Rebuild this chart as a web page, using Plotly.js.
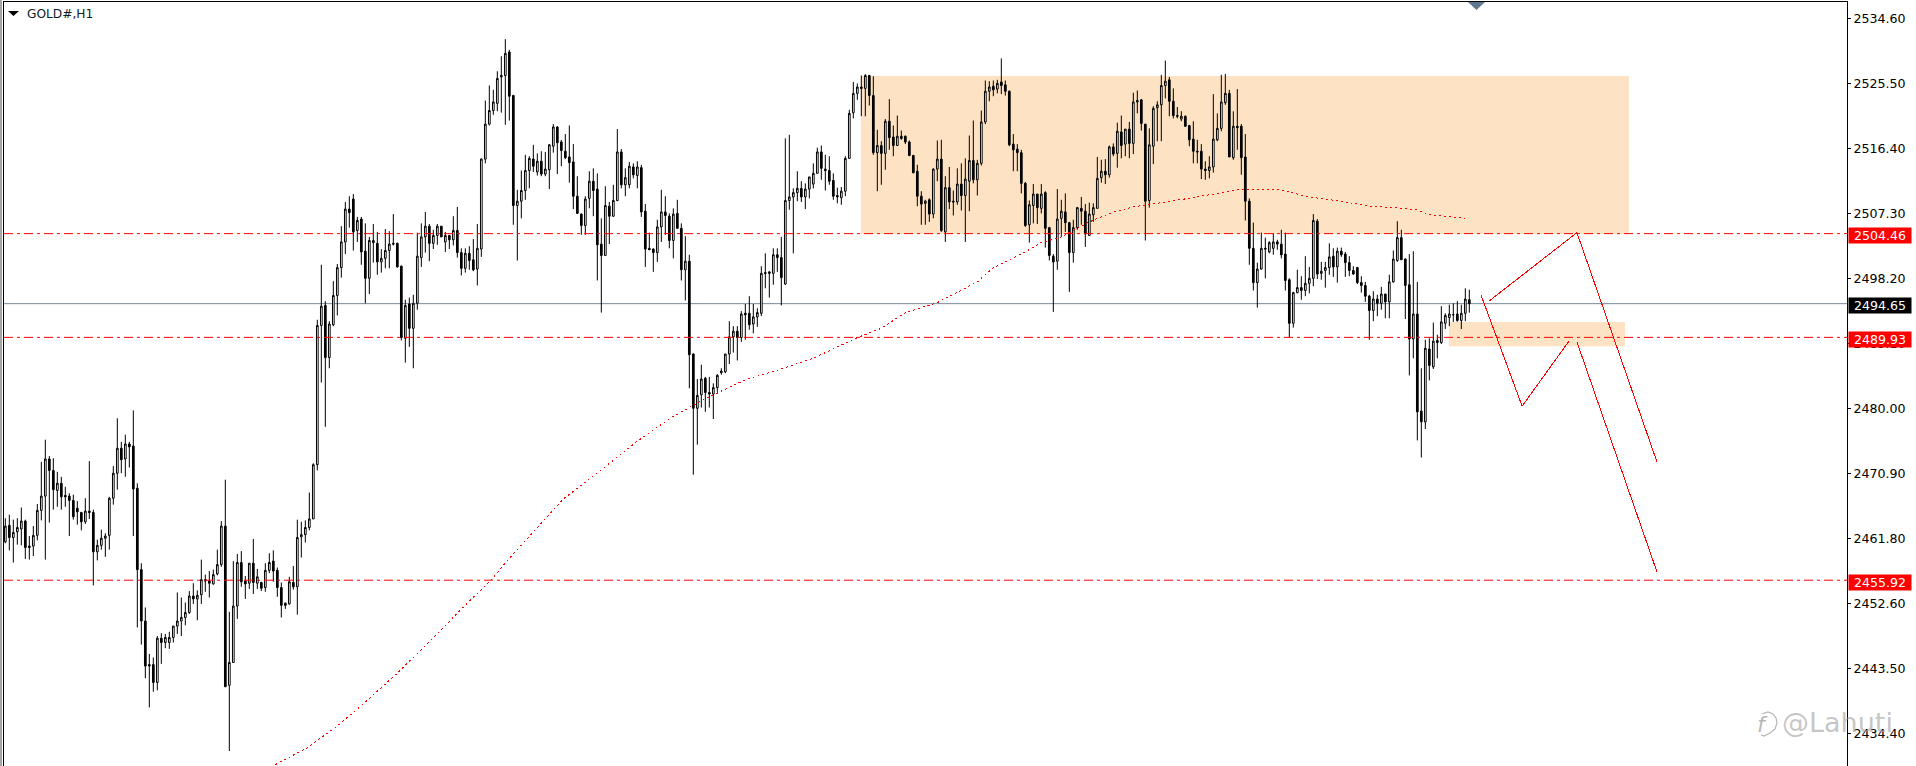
<!DOCTYPE html>
<html>
<head>
<meta charset="utf-8">
<script src="https://cdn.plot.ly/plotly-3.0.1.min.js"></script>
<style>
  html, body { margin: 0; padding: 0; background: #fff; overflow: hidden; }
  .scatterlayer path.js-line { shape-rendering: crispEdges; }
</style>
</head>
<body>
<div id="myDiv" style="width:1916px;height:766px;"></div>
<script>
var openP = [
2461.3,2463.6,2461.9,2462.7,2463.1,2464.2,2460.7,2460.7,2462.2,2465.7,
2467.7,2472.9,2471.3,2468.5,2469.5,2467.8,2467.7,2467.1,2466.0,2465.4,
2464.1,2465.6,2465.4,2459.9,2460.8,2461.8,2462.2,2467.4,2470.9,2474.4,
2472.9,2475.0,2474.7,2468.8,2457.4,2450.2,2444.1,2444.1,2441.6,2447.8,
2447.2,2447.2,2447.9,2449.5,2450.2,2450.7,2451.4,2453.7,2453.3,2453.9,
2456.0,2455.8,2455.4,2456.8,2458.1,2463.5,2441.2,2444.4,2452.3,2458.4,
2455.8,2455.5,2458.3,2455.5,2455.6,2454.9,2457.3,2458.6,2457.3,2454.9,
2452.7,2452.6,2455.6,2455.0,2462.0,2462.3,2463.3,2464.5,2472.1,2491.6,
2494.4,2487.1,2491.7,2495.8,2499.7,2503.3,2507.9,2509.3,2504.9,2506.5,
2502.0,2498.2,2503.5,2503.1,2500.5,2501.0,2502.1,2503.1,2503.1,2499.9,
2489.8,2494.6,2491.2,2494.7,2501.1,2504.0,2505.5,2503.1,2504.2,2505.5,
2503.3,2504.2,2503.6,2504.9,2501.8,2499.6,2501.7,2500.8,2499.5,2502.3,
2514.9,2519.8,2521.7,2522.7,2526.4,2526.6,2529.9,2523.8,2508.4,2509.0,
2510.5,2513.3,2514.9,2513.1,2514.6,2512.8,2513.4,2516.7,2519.4,2517.3,
2516.0,2515.2,2514.5,2509.7,2507.2,2505.6,2509.4,2511.8,2510.7,2503.0,
2501.4,2508.3,2506.9,2509.1,2515.9,2511.3,2511.3,2513.8,2512.6,2513.7,
2507.6,2502.4,2502.3,2501.8,2505.4,2507.5,2506.9,2503.5,2507.3,2505.2,
2499.4,2500.6,2487.6,2480.0,2481.9,2484.2,2482.2,2482.0,2482.9,2485.2,
2485.1,2487.6,2490.0,2490.8,2489.9,2493.3,2493.3,2491.8,2492.8,2493.3,
2499.0,2499.1,2498.9,2501.5,2501.1,2497.4,2509.1,2509.6,2510.2,2510.8,
2509.6,2510.7,2511.4,2512.9,2515.9,2513.5,2513.3,2511.9,2509.8,2509.5,
2510.4,2515.0,2521.4,2524.1,2525.0,2524.8,2526.6,2523.8,2515.8,2516.8,
2515.7,2520.2,2518.0,2516.8,2518.1,2518.1,2517.3,2515.4,2513.2,2509.7,
2508.7,2509.2,2507.2,2513.5,2514.9,2504.7,2510.9,2509.0,2508.9,2511.4,
2509.8,2511.8,2514.7,2512.0,2514.3,2520.1,2524.4,2525.1,2524.7,2525.7,
2525.3,2524.4,2517.0,2516.3,2515.8,2511.5,2505.7,2508.4,2510.0,2508.0,
2510.2,2505.3,2501.3,2500.6,2506.6,2507.5,2506.0,2501.8,2505.3,2508.0,
2507.6,2504.2,2507.1,2508.0,2512.3,2513.2,2512.7,2516.6,2515.7,2518.7,
2517.0,2519.1,2517.1,2522.9,2523.2,2519.8,2509.1,2516.7,2522.1,2522.5,
2525.2,2526.0,2523.0,2521.0,2520.5,2520.9,2519.6,2517.7,2516.0,2516.0,
2513.5,2513.3,2513.8,2517.6,2519.2,2522.8,2524.1,2515.1,2519.5,2519.5,
2515.2,2509.0,2502.4,2497.6,2499.5,2502.4,2501.9,2502.4,2503.3,2503.0,
2501.6,2498.0,2491.9,2496.2,2496.9,2496.5,2497.5,2498.2,2506.2,2498.9,
2499.3,2499.7,2501.3,2499.8,2502.0,2501.6,2500.4,2499.3,2499.7,2497.6,
2497.2,2495.7,2493.7,2495.3,2494.7,2496.0,2494.9,2497.7,2500.7,2503.9,
2500.9,2497.3,2489.7,2493.2,2479.6,2478.1,2488.3,2485.8,2489.5,2489.2,
2491.9,2492.7,2493.1,2493.2,2492.3,2493.3,2495.2];

var highP = [
2464.6,2465.1,2464.4,2464.6,2466.1,2464.4,2462.1,2463.5,2466.6,2472.5,
2475.6,2473.3,2473.0,2471.1,2470.4,2469.0,2468.1,2467.9,2467.0,2465.5,
2467.4,2472.6,2465.8,2461.6,2463.0,2462.5,2467.6,2471.9,2478.6,2475.3,
2476.3,2475.3,2479.7,2469.5,2458.3,2452.1,2445.6,2445.1,2448.1,2448.5,
2448.4,2448.7,2449.5,2454.2,2453.5,2452.8,2454.4,2455.5,2454.5,2458.8,
2456.7,2457.2,2457.4,2460.2,2464.2,2470.0,2451.5,2458.6,2459.6,2460.0,
2456.5,2458.3,2461.7,2457.5,2455.7,2458.3,2459.7,2460.1,2457.7,2455.6,
2452.8,2456.4,2457.9,2464.4,2464.1,2464.3,2468.2,2472.3,2492.4,2500.1,
2495.0,2492.2,2497.8,2500.2,2505.5,2508.9,2509.7,2510.0,2506.8,2506.8,
2505.9,2504.0,2505.8,2504.7,2502.3,2505.1,2504.8,2507.2,2503.2,2500.0,
2495.2,2495.5,2495.9,2504.6,2505.9,2507.5,2505.8,2505.0,2505.8,2505.5,
2504.7,2504.3,2506.9,2508.2,2502.4,2502.4,2502.7,2503.7,2505.8,2515.0,
2523.1,2525.2,2524.6,2527.2,2529.3,2531.7,2530.2,2523.9,2510.6,2513.3,
2515.5,2515.3,2516.9,2515.7,2516.0,2515.9,2517.0,2519.8,2519.5,2517.6,
2518.4,2519.6,2517.0,2512.5,2507.3,2509.7,2513.2,2513.6,2512.9,2506.6,
2511.1,2508.9,2511.3,2519.1,2516.3,2513.6,2514.5,2514.3,2514.6,2514.1,
2508.6,2504.6,2502.4,2506.4,2510.6,2509.7,2507.3,2508.0,2509.2,2505.9,
2504.1,2501.5,2487.7,2484.1,2486.1,2484.4,2484.4,2483.5,2484.8,2485.6,
2487.6,2492.2,2491.5,2491.5,2493.6,2494.6,2495.7,2494.6,2494.0,2499.9,
2501.7,2499.2,2502.4,2502.4,2504.0,2517.8,2518.3,2510.8,2513.2,2511.8,
2511.5,2512.4,2514.3,2516.5,2516.8,2515.5,2515.3,2512.9,2510.9,2511.0,
2515.3,2521.8,2525.7,2525.5,2526.6,2526.8,2526.7,2526.5,2519.0,2517.4,
2520.5,2523.3,2519.6,2521.0,2518.9,2518.2,2517.5,2515.5,2514.1,2510.4,
2509.2,2509.4,2513.6,2517.5,2517.6,2512.5,2513.8,2510.5,2513.6,2514.3,
2515.0,2518.2,2520.3,2514.8,2521.7,2525.9,2525.8,2525.9,2526.0,2529.0,
2525.9,2524.5,2518.4,2517.0,2516.2,2511.7,2509.1,2511.4,2510.0,2511.4,
2510.4,2505.4,2501.6,2510.7,2509.2,2510.1,2506.1,2506.4,2508.2,2509.6,
2508.6,2508.8,2508.7,2515.2,2514.8,2514.9,2516.8,2517.1,2520.0,2521.0,
2519.1,2520.1,2524.2,2524.5,2523.3,2519.8,2519.2,2522.3,2523.0,2526.7,
2528.7,2526.4,2524.8,2522.2,2521.6,2521.0,2519.7,2520.2,2517.6,2517.0,
2514.6,2515.3,2524.0,2521.3,2526.7,2526.8,2524.6,2521.6,2524.7,2519.8,
2518.4,2509.4,2506.0,2500.4,2504.6,2503.9,2503.4,2504.5,2503.6,2505.0,
2504.6,2498.2,2496.3,2499.4,2498.5,2501.3,2499.8,2507.2,2506.5,2500.5,
2500.5,2503.1,2502.4,2502.5,2502.5,2501.9,2501.3,2499.9,2499.8,2498.5,
2497.7,2495.9,2496.4,2495.9,2497.0,2496.0,2498.7,2502.1,2506.2,2505.0,
2501.0,2501.6,2502.0,2497.7,2485.6,2489.6,2489.8,2492.0,2490.3,2494.3,
2493.3,2494.5,2494.7,2495.0,2494.5,2496.8,2496.6];

var lowP = [
2461.1,2460.1,2458.4,2460.9,2460.8,2458.9,2458.8,2459.3,2461.5,2464.3,
2458.8,2464.0,2465.8,2466.2,2465.8,2466.2,2462.1,2464.4,2463.7,2462.9,
2463.8,2464.5,2455.2,2458.7,2460.2,2459.2,2460.2,2466.5,2468.6,2470.9,
2470.4,2471.7,2462.1,2449.3,2446.9,2442.2,2438.1,2440.3,2440.5,2444.2,
2446.4,2446.3,2447.2,2448.4,2448.1,2449.6,2451.2,2452.6,2450.3,2452.6,
2454.3,2453.5,2455.3,2456.6,2457.8,2441.0,2432.0,2444.4,2450.5,2455.0,
2453.3,2454.7,2454.0,2454.7,2454.4,2454.3,2456.9,2455.7,2453.6,2450.7,
2451.9,2452.5,2454.6,2451.1,2459.1,2461.2,2462.9,2464.5,2471.3,2483.6,
2477.4,2485.6,2491.5,2493.0,2498.3,2501.6,2505.3,2502.1,2503.3,2500.1,
2494.7,2496.0,2500.4,2498.7,2499.0,2499.6,2499.6,2502.8,2499.7,2489.5,
2486.4,2488.6,2485.6,2493.8,2499.8,2501.8,2500.6,2502.3,2502.9,2504.0,
2501.9,2502.3,2502.8,2501.1,2498.6,2499.0,2499.4,2499.2,2497.2,2501.2,
2514.3,2519.6,2521.1,2521.6,2521.4,2519.7,2520.3,2505.7,2500.7,2506.6,
2509.2,2510.8,2513.1,2512.6,2512.5,2512.5,2510.7,2515.8,2512.8,2513.9,
2514.9,2511.6,2507.9,2507.2,2504.3,2504.3,2508.0,2506.9,2497.9,2493.4,
2501.4,2503.0,2506.8,2509.0,2510.8,2509.7,2510.8,2512.2,2510.8,2506.8,
2499.8,2502.2,2499.1,2500.5,2503.3,2504.3,2502.4,2501.0,2505.2,2497.9,
2495.1,2482.8,2470.7,2474.9,2480.1,2479.5,2480.1,2478.5,2482.3,2484.7,
2484.9,2486.2,2487.8,2486.7,2489.3,2489.6,2491.0,2490.5,2491.4,2492.9,
2496.8,2495.5,2497.3,2499.1,2494.4,2497.3,2507.8,2501.7,2509.0,2508.9,
2507.9,2509.4,2510.8,2512.9,2512.0,2510.5,2511.3,2509.2,2508.7,2508.5,
2509.7,2514.9,2520.6,2523.2,2520.9,2520.9,2522.4,2515.5,2510.4,2511.3,
2513.4,2516.2,2515.3,2516.8,2517.6,2517.0,2515.3,2512.9,2508.3,2505.7,
2505.7,2506.1,2506.6,2511.8,2504.7,2503.3,2507.9,2507.0,2508.5,2507.7,
2503.3,2507.6,2511.5,2509.8,2514.0,2519.8,2523.0,2523.7,2524.1,2524.0,
2523.8,2516.7,2513.2,2513.2,2510.1,2505.4,2503.2,2505.9,2505.8,2507.3,
2502.5,2500.7,2493.5,2499.4,2504.0,2504.7,2496.3,2500.4,2505.0,2505.7,
2502.6,2504.2,2506.1,2508.0,2511.6,2511.4,2512.3,2515.3,2513.7,2515.0,
2515.3,2515.0,2515.6,2521.3,2518.9,2503.5,2508.1,2514.2,2517.4,2517.4,
2523.4,2520.9,2520.6,2520.6,2520.2,2519.4,2516.7,2514.3,2514.3,2512.1,
2512.0,2512.2,2513.0,2517.4,2518.8,2522.5,2515.2,2514.8,2516.2,2512.7,
2506.3,2500.1,2496.5,2494.1,2499.4,2498.2,2501.7,2501.5,2502.2,2501.0,
2496.5,2489.9,2491.3,2496.1,2495.2,2495.7,2496.1,2497.1,2498.1,2498.0,
2496.9,2498.7,2498.4,2497.6,2501.2,2498.4,2498.5,2498.7,2497.4,2496.2,
2494.9,2489.6,2492.2,2492.9,2493.8,2492.6,2492.6,2497.6,2500.5,2500.8,
2492.5,2484.6,2487.0,2475.5,2473.1,2477.1,2483.9,2485.5,2487.0,2489.0,
2491.1,2491.5,2492.1,2492.1,2491.1,2492.2,2493.4];

var closeP = [
2463.5,2461.9,2462.6,2463.3,2464.2,2460.5,2460.5,2462.2,2465.7,2467.7,
2472.9,2471.3,2468.6,2469.5,2467.6,2467.6,2467.1,2464.8,2465.5,2464.1,
2465.6,2465.4,2459.9,2460.8,2461.8,2462.1,2467.4,2470.9,2474.4,2472.8,
2475.0,2474.6,2468.7,2457.4,2450.2,2443.9,2443.9,2441.6,2447.8,2447.2,
2447.9,2447.9,2449.5,2450.2,2450.7,2451.4,2453.7,2453.3,2453.8,2456.0,
2455.8,2455.5,2456.7,2458.1,2463.5,2441.0,2444.4,2452.3,2458.4,2455.7,
2455.4,2458.3,2455.6,2456.4,2454.8,2457.3,2458.4,2457.2,2454.9,2452.4,
2452.4,2455.7,2455.0,2461.9,2462.3,2463.3,2464.5,2472.1,2491.6,2494.3,
2487.1,2491.8,2495.8,2499.7,2503.3,2507.9,2507.4,2504.7,2506.3,2501.9,
2498.2,2503.5,2503.2,2500.5,2501.0,2502.1,2503.0,2503.0,2499.8,2489.9,
2494.4,2491.2,2494.7,2501.3,2504.0,2505.5,2503.1,2504.2,2505.5,2504.0,
2504.2,2503.6,2504.9,2501.8,2499.6,2501.7,2500.7,2499.4,2502.4,2514.9,
2519.8,2521.7,2522.9,2526.2,2526.6,2529.7,2523.7,2508.4,2509.0,2510.5,
2513.3,2515.0,2513.9,2514.6,2512.8,2513.5,2516.9,2519.4,2517.2,2516.1,
2515.1,2514.4,2509.7,2507.3,2505.6,2509.3,2511.8,2510.5,2502.9,2501.4,
2508.4,2506.9,2509.1,2515.9,2511.3,2512.3,2513.9,2512.7,2513.8,2507.5,
2502.3,2502.2,2501.8,2505.4,2507.5,2507.0,2503.5,2507.2,2505.2,2499.4,
2500.6,2487.5,2480.0,2481.8,2484.1,2482.2,2482.0,2482.9,2484.6,2485.0,
2487.6,2490.0,2490.8,2489.9,2493.2,2493.1,2491.7,2492.8,2493.4,2498.9,
2498.9,2498.9,2501.5,2501.1,2498.3,2509.1,2509.6,2510.2,2510.8,2509.6,
2510.7,2512.4,2512.9,2515.9,2513.6,2513.3,2511.8,2509.7,2509.6,2510.4,
2515.0,2521.3,2524.1,2525.0,2524.8,2526.6,2523.8,2515.8,2516.8,2515.7,
2520.2,2517.9,2516.8,2518.1,2517.8,2517.3,2515.4,2513.0,2509.7,2508.6,
2509.0,2507.2,2513.5,2514.9,2504.9,2510.9,2508.9,2508.9,2511.4,2509.8,
2512.1,2514.7,2512.0,2514.3,2520.1,2524.4,2525.0,2524.6,2525.5,2525.2,
2524.4,2516.9,2516.2,2515.8,2511.5,2505.6,2508.5,2510.0,2508.1,2510.0,
2505.2,2501.4,2500.5,2506.5,2507.6,2506.0,2501.8,2505.3,2508.1,2507.6,
2504.4,2507.2,2508.1,2512.2,2513.2,2512.7,2516.6,2515.6,2518.8,2516.8,
2519.1,2517.1,2522.9,2523.1,2519.9,2509.0,2516.9,2522.0,2522.5,2525.2,
2525.8,2523.0,2521.0,2520.9,2520.9,2519.5,2517.6,2516.0,2515.9,2513.5,
2513.3,2513.8,2517.7,2519.2,2522.9,2524.1,2515.2,2519.5,2519.3,2515.1,
2509.0,2502.4,2497.6,2499.5,2502.4,2502.3,2503.2,2503.3,2503.0,2501.5,
2497.9,2491.9,2496.2,2496.9,2496.5,2497.5,2498.2,2506.3,2498.8,2499.2,
2499.7,2501.2,2499.8,2502.0,2501.5,2500.4,2499.3,2498.8,2497.6,2497.2,
2495.7,2493.7,2495.3,2494.7,2496.0,2494.9,2497.7,2500.9,2503.9,2500.8,
2497.2,2489.7,2493.2,2479.5,2478.1,2488.4,2486.0,2489.4,2489.2,2492.1,
2493.0,2493.2,2493.1,2492.3,2493.3,2495.3,2494.65];

// moving average
var maBars = [67.5,75.3,82.8,90.3,97.8,106.2,115.3,121.2,126.2,132.8,139.5,149.5,157.8,166.2,174.5,185,194,202,213,219,225,233,239,243,247,254,259,264,271,277,282,289,297,308,319,323,326,334,341,347,353,356,365];
var maPrice = [2430.1,2432.4,2435.4,2439.0,2442.8,2447.4,2452.6,2455.8,2459.1,2463.2,2467.3,2471.6,2475.3,2478.6,2481.2,2484.0,2485.5,2487.0,2489.9,2491.2,2493.4,2494.8,2496.6,2497.7,2499.7,2501.6,2503.2,2504.0,2506.1,2507.5,2508.2,2508.8,2509.5,2510.6,2510.6,2510.0,2509.6,2509.0,2508.3,2508.1,2507.8,2507.1,2506.6];

// hand drawn forecast lines
var legABars = [370.9,392.9,412.9];
var legAPrice = [2495.0,2504.6,2472.5];
var legBBars = [368.9,379.2,390.9];
var legBPrice = [2495.9,2480.3,2489.4];
var legCBars = [392.9,412.9];
var legCPrice = [2489.3,2457.1];

var axisTicks = [2534.6,2525.5,2516.4,2507.3,2498.2,2489.1,2480.0,2470.9,2461.8,2452.6,2443.5,2434.4];
var redLevels = [2504.46,2489.93,2455.92];
var lastPrice = 2494.65;

// supply / demand boxes
var zoneBars = [[213.9,405.9],[360.9,404.9]];
var zonePrice = [[2504.4,2526.55],[2488.7,2492.1]];

var bars = [];
for (var i = 0; i < openP.length; i++) {
  bars.push(i);
}

var candles = {
  type: 'candlestick',
  x: bars,
  open: openP,
  high: highP,
  low: lowP,
  close: closeP,
  whiskerwidth: 0,
  increasing: {line: {color: '#000', width: 1}, fillcolor: '#fff'},
  decreasing: {line: {color: '#000', width: 1}, fillcolor: '#000'},
  hoverinfo: 'skip',
  showlegend: false
};

function redLine(xs, ys, dash) {
  return {
    type: 'scatter',
    mode: 'lines',
    x: xs,
    y: ys,
    line: {color: '#ff0000', width: 1, dash: dash || 'solid'},
    hoverinfo: 'skip',
    showlegend: false
  };
}

var plotW = 1843, plotH = 764;
function fx(px) { return (px - 4) / plotW; }
function fy(py) { return 1 - (py - 2) / plotH; }
function pathOf(points, closed) {
  var s = '';
  for (var i = 0; i < points.length; i++) {
    s += (i == 0 ? 'M' : 'L') + fx(points[i][0]) + ',' + fy(points[i][1]);
  }
  return closed ? s + 'Z' : s;
}

var shapes = [];
for (var z = 0; z < zoneBars.length; z++) {
  shapes.push({
    type: 'rect', layer: 'below', xref: 'x', yref: 'y',
    x0: zoneBars[z][0], x1: zoneBars[z][1], y0: zonePrice[z][0], y1: zonePrice[z][1],
    fillcolor: '#fde3c4', line: {width: 0}
  });
}
shapes.push({
  type: 'line', layer: 'below', xref: 'paper', yref: 'y', x0: 0, x1: 1, y0: lastPrice, y1: lastPrice,
  line: {color: '#778899', width: 1}
});
redLevels.forEach(function (lvl) {
  shapes.push({
    type: 'line', layer: 'above', xref: 'paper', yref: 'y', x0: 0, x1: 1, y0: lvl, y1: lvl,
    line: {color: '#ff0000', width: 1, dash: '9px,4px,3px,4px'}
  });
});
// window edge, menu arrow, period separator arrow
shapes.push({type: 'rect', xref: 'paper', yref: 'paper', x0: fx(0), x1: fx(2), y0: 0, y1: 1.01, fillcolor: '#a6a6a6', line: {width: 0}});
shapes.push({type: 'path', xref: 'paper', yref: 'paper', path: pathOf([[8, 11], [19, 11], [13.5, 16]], true), fillcolor: '#000', line: {width: 0}});
shapes.push({type: 'path', xref: 'paper', yref: 'paper', path: pathOf([[1468, 2], [1485, 2], [1476.5, 10]], true), fillcolor: '#607890', line: {width: 0}});
// watermark speech bubble
shapes.push({
  type: 'path', xref: 'paper', yref: 'paper',
  path: pathOf([[1762, 714], [1768, 712], [1773, 714], [1776, 718], [1777, 723], [1775, 729], [1770, 733], [1764, 736], [1761, 735]], false),
  line: {color: 'rgba(150,150,150,0.7)', width: 1.2}
});

var annotations = [
  {xref: 'paper', yref: 'paper', x: fx(25), y: fy(14), xanchor: 'left', yanchor: 'middle', showarrow: false,
   text: 'GOLD#,H1', font: {family: 'DejaVu Sans', size: 12.2, color: '#0d1b2a'}},
  {xref: 'paper', yref: 'paper', x: fx(1895), y: fy(722), xanchor: 'right', yanchor: 'middle', showarrow: false,
   text: '@Lahuti', font: {family: 'DejaVu Sans', size: 27, color: 'rgba(160,160,160,0.6)'}},
  {xref: 'paper', yref: 'paper', x: fx(1762), y: fy(724), xanchor: 'center', yanchor: 'middle', showarrow: false,
   text: '<i>f</i>', font: {family: 'DejaVu Sans', size: 22, color: 'rgba(150,150,150,0.7)'}}
];

function priceTag(price, bg) {
  return {
    xref: 'paper', yref: 'y', x: 1, y: price, xanchor: 'left', yanchor: 'middle', xshift: 1, yshift: -2,
    showarrow: false, text: price.toFixed(2), width: 62, height: 15, borderpad: 0, align: 'center',
    bgcolor: bg, font: {family: 'DejaVu Sans', size: 12.6, color: '#fff'}
  };
}
redLevels.forEach(function (lvl) { annotations.push(priceTag(lvl, '#ff0000')); });
annotations.push(priceTag(lastPrice, '#000'));

var data = [
  candles,
  redLine(maBars, maPrice, '2px,3px'),
  redLine(legABars, legAPrice),
  redLine(legBBars, legBPrice),
  redLine(legCBars, legCPrice)
];

var layout = {
  width: 1916,
  height: 766,
  margin: {l: 4, r: 69, t: 2, b: 0, pad: 0, autoexpand: false},
  paper_bgcolor: '#fff',
  plot_bgcolor: '#fff',
  boxgap: 0.4,
  showlegend: false,
  hovermode: false,
  xaxis: {
    type: 'linear', range: [-0.33, 460.42], side: 'top', showgrid: false, zeroline: false,
    showticklabels: false, ticks: '', showline: true, linecolor: '#000', linewidth: 1,
    rangeslider: {visible: false}, fixedrange: true
  },
  yaxis: {
    side: 'right', range: [2429.9, 2536.9], showgrid: false, zeroline: false,
    tickmode: 'array', tickvals: axisTicks, ticktext: axisTicks.map(function (v) { return v.toFixed(2); }),
    ticks: 'outside', ticklen: 3, tickwidth: 1, tickcolor: '#000',
    showline: true, mirror: true, linecolor: '#000', linewidth: 1, fixedrange: true,
    tickfont: {family: 'DejaVu Sans', size: 12.6, color: '#000'}
  },
  shapes: shapes,
  annotations: annotations
};

Plotly.newPlot('myDiv', data, layout, {displayModeBar: false, staticPlot: true});
</script>
</body>
</html>
